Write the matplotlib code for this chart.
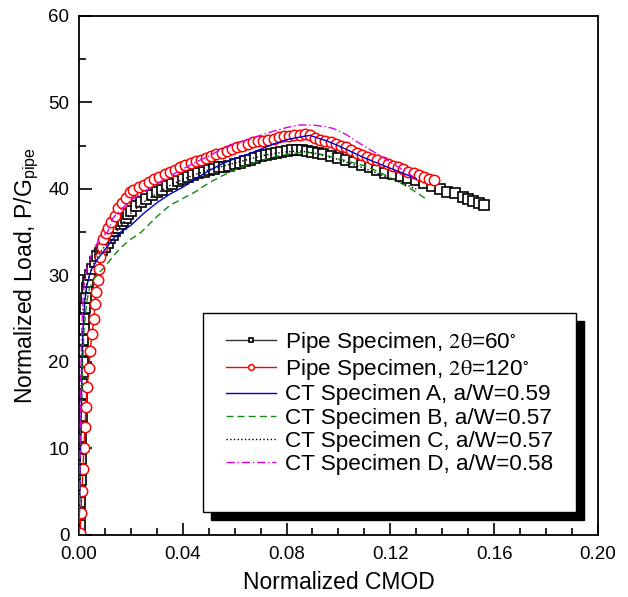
import numpy as np
import matplotlib.pyplot as plt
from matplotlib.patches import Rectangle
from matplotlib.ticker import MultipleLocator

plt.rcParams['font.family'] = ['Liberation Sans', 'DejaVu Sans']
plt.rcParams['mathtext.fontset'] = 'stix'

# Pipe specimen, 2theta = 60 deg (open squares)
pipe60_x = [0.0000, 0.0002, 0.0003, 0.0004, 0.0005, 0.0006, 0.0006, 0.0007, 0.0008, 0.0009,
            0.0010, 0.0010, 0.0011, 0.0012, 0.0013, 0.0014, 0.0015, 0.0016, 0.0017, 0.0019,
            0.0021, 0.0023, 0.0027, 0.0031, 0.0036, 0.0042, 0.0050, 0.0060, 0.0070, 0.0080,
            0.0090, 0.0100, 0.011, 0.012, 0.013, 0.014, 0.015, 0.016, 0.017, 0.018,
            0.019, 0.020, 0.022, 0.024, 0.026, 0.028, 0.030, 0.032, 0.034, 0.036,
            0.038, 0.040, 0.042, 0.044, 0.046, 0.048, 0.050, 0.052, 0.054, 0.056,
            0.058, 0.060, 0.062, 0.064, 0.066, 0.068, 0.070, 0.072, 0.074, 0.076,
            0.078, 0.080, 0.082, 0.084, 0.086, 0.088, 0.090, 0.092, 0.094, 0.097,
            0.100, 0.103, 0.106, 0.109, 0.112, 0.115, 0.118, 0.121, 0.124, 0.127,
            0.130, 0.133, 0.136, 0.139, 0.142, 0.145, 0.148, 0.150, 0.152, 0.154, 0.156]
pipe60_y = [0.0, 1.2, 2.5, 3.8, 5.0, 6.3, 7.5, 8.8, 10.0, 11.3,
            12.5, 13.8, 15.0, 16.3, 17.5, 18.8, 20.0, 21.3, 22.5, 23.8,
            25.0, 26.2, 27.4, 28.5, 29.3, 30.0, 30.8, 31.6, 32.2, 32.6,
            33.0, 33.3, 33.8, 34.3, 34.7, 35.1, 35.5, 35.9, 36.3, 36.7,
            37.1, 37.5, 38.0, 38.5, 38.9, 39.3, 39.6, 39.9, 40.3, 40.6,
            40.9, 41.2, 41.4, 41.6, 41.8, 42.0, 42.2, 42.3, 42.5, 42.6,
            42.7, 42.9, 43.0, 43.2, 43.4, 43.6, 43.8, 43.9, 44.1, 44.2,
            44.3, 44.4, 44.5, 44.5, 44.5, 44.4, 44.3, 44.2, 44.1, 43.8,
            43.6, 43.4, 43.1, 42.8, 42.5, 42.2, 41.9, 41.7, 41.5, 41.3,
            41.0, 40.7, 40.3, 40.0, 39.7, 39.5, 39.1, 38.8, 38.6, 38.4, 38.2]

# Pipe specimen, 2theta = 120 deg (open circles)
pipe120_x = [0.0004, 0.0008, 0.0011, 0.0015, 0.0019, 0.0023, 0.0027, 0.0031, 0.0039, 0.0042,
             0.0050, 0.0058, 0.0061, 0.0066, 0.0073, 0.0078, 0.0082, 0.0088, 0.0094, 0.0103,
             0.0112, 0.0125, 0.0139, 0.0152, 0.0165, 0.0180, 0.0197, 0.021, 0.023, 0.025,
             0.027, 0.029, 0.031, 0.033, 0.035, 0.037, 0.039, 0.041, 0.043, 0.045,
             0.047, 0.049, 0.051, 0.053, 0.055, 0.057, 0.059, 0.061, 0.063, 0.065,
             0.067, 0.069, 0.071, 0.073, 0.075, 0.077, 0.079, 0.081, 0.083, 0.085,
             0.087, 0.089, 0.091, 0.093, 0.095, 0.097, 0.099, 0.101, 0.103, 0.105,
             0.107, 0.109, 0.111, 0.113, 0.115, 0.117, 0.119, 0.121, 0.123, 0.125,
             0.127, 0.129, 0.131, 0.133, 0.135, 0.137]
pipe120_y = [0.2, 2.5, 5.1, 7.6, 10.1, 12.5, 14.8, 17.1, 19.3, 21.3,
             23.2, 25.0, 26.7, 28.1, 29.5, 30.8, 32.1, 33.3, 34.2, 34.9,
             35.5, 36.2, 36.9, 37.8, 38.4, 39.0, 39.6, 39.9, 40.2, 40.5,
             40.8, 41.1, 41.4, 41.7, 42.0, 42.2, 42.5, 42.8, 43.0, 43.2,
             43.4, 43.6, 43.8, 44.0, 44.2, 44.4, 44.6, 44.8, 45.0, 45.2,
             45.4, 45.5, 45.6, 45.7, 45.8, 46.0, 46.1, 46.1, 46.2, 46.2,
             46.3, 46.2, 45.9, 45.7, 45.5, 45.4, 45.2, 45.0, 44.8, 44.5,
             44.2, 43.9, 43.7, 43.5, 43.3, 43.1, 42.9, 42.7, 42.5, 42.3,
             42.0, 41.8, 41.6, 41.4, 41.2, 41.0]

# CT specimen A, a/W=0.59
ctA_x = [0.0, 0.0003, 0.0006, 0.0009, 0.0012, 0.0016, 0.0022, 0.003, 0.004, 0.005,
         0.007, 0.010, 0.013, 0.016, 0.020, 0.025, 0.030, 0.035, 0.040, 0.045,
         0.050, 0.055, 0.060, 0.065, 0.070, 0.075, 0.080, 0.085, 0.089, 0.092,
         0.096, 0.100, 0.105, 0.110, 0.115, 0.120, 0.125, 0.130]
ctA_y = [0.0, 5.0, 10.0, 15.0, 20.0, 24.0, 27.0, 28.8, 30.0, 30.8,
         31.8, 33.0, 34.2, 35.0, 35.8, 37.2, 38.4, 39.4, 40.2, 41.2,
         42.1, 42.9, 43.5, 44.0, 44.6, 45.2, 45.7, 46.0, 46.2, 45.9,
         45.5, 45.0, 44.3, 43.6, 43.0, 42.4, 41.8, 41.2]

# CT specimen B, a/W=0.57
ctB_x = [0.0, 0.0003, 0.0006, 0.001, 0.0014, 0.002, 0.003, 0.004, 0.006, 0.008,
         0.010, 0.012, 0.016, 0.020, 0.024, 0.030, 0.035, 0.040, 0.045, 0.050,
         0.055, 0.060, 0.065, 0.070, 0.075, 0.080, 0.085, 0.090, 0.095, 0.100,
         0.105, 0.111, 0.116, 0.120, 0.124, 0.128, 0.131, 0.134]
ctB_y = [0.0, 5.0, 10.0, 15.0, 20.0, 24.0, 27.0, 28.5, 29.7, 30.4,
         31.0, 31.8, 33.2, 34.2, 35.0, 36.8, 38.1, 38.9, 39.7, 40.7,
         41.5, 42.2, 42.8, 43.3, 43.7, 44.0, 44.2, 44.2, 43.9, 43.5,
         43.1, 42.6, 41.9, 41.3, 40.7, 40.0, 39.4, 38.8]

# CT specimen C, a/W=0.57
ctC_x = [0.0, 0.0003, 0.0006, 0.0009, 0.0012, 0.0016, 0.0022, 0.003, 0.005, 0.008,
         0.010, 0.015, 0.020, 0.025, 0.030, 0.035, 0.040, 0.045, 0.050, 0.055,
         0.060, 0.065, 0.070, 0.075, 0.080, 0.085, 0.090, 0.095, 0.100, 0.105,
         0.110, 0.115, 0.120, 0.125, 0.130]
ctC_y = [0.0, 5.0, 10.0, 15.0, 20.0, 24.0, 27.0, 29.0, 31.0, 32.6,
         33.4, 35.3, 37.2, 38.5, 39.5, 40.4, 41.1, 41.7, 42.2, 42.6,
         43.0, 43.4, 43.8, 44.1, 44.3, 44.4, 44.2, 43.8, 43.4, 42.9,
         42.4, 41.8, 41.2, 40.6, 40.0]

# CT specimen D, a/W=0.58
ctD_x = [0.0, 0.0002, 0.0004, 0.0006, 0.0008, 0.0011, 0.0015, 0.002, 0.003, 0.005,
         0.008, 0.011, 0.013, 0.016, 0.020, 0.025, 0.030, 0.035, 0.040, 0.045,
         0.050, 0.055, 0.060, 0.065, 0.070, 0.075, 0.080, 0.085, 0.090, 0.095,
         0.098, 0.103, 0.108, 0.113, 0.117, 0.121, 0.125, 0.129]
ctD_y = [0.0, 5.0, 10.0, 15.0, 20.0, 24.0, 27.0, 29.0, 30.8, 32.6,
         34.3, 35.0, 36.6, 37.6, 38.7, 39.6, 40.6, 41.5, 42.3, 43.1,
         43.8, 44.6, 45.2, 45.7, 46.2, 46.7, 47.1, 47.4, 47.4, 47.2,
         47.0, 46.3, 45.3, 44.4, 43.7, 42.9, 42.2, 41.4]

fig = plt.figure(figsize=(6.28, 5.97), dpi=100)
ax = fig.add_axes([0.1258, 0.1039, 0.8262, 0.8693])

ax.plot(ctA_x, ctA_y, '-', color='#0000cc', lw=1.0, label='CT Specimen A, a/W=0.59', zorder=3)
ax.plot(ctB_x, ctB_y, '--', color='#118811', lw=1.0, dashes=(5, 3), label='CT Specimen B, a/W=0.57', zorder=3)
ax.plot(ctC_x, ctC_y, ':', color='#000000', lw=1.0, label='CT Specimen C, a/W=0.57', zorder=3)
ax.plot(ctD_x, ctD_y, '-.', color='#dd00dd', lw=1.0, dashes=(6, 2, 1, 2), label='CT Specimen D, a/W=0.58', zorder=3)
ax.plot(pipe60_x, pipe60_y, '-', color='#333333', lw=1.0, marker='s', ms=6.5, mfc='white',
        mec='black', mew=1.2, label=r'Pipe Specimen, $\mathrm{2θ}$=60$^{\circ}$', zorder=2)
ax.plot(pipe120_x, pipe120_y, '-', color='red', lw=1.0, marker='o', ms=7.5, mfc='white',
        mec='red', mew=1.1, label=r'Pipe Specimen, $\mathrm{2θ}$=120$^{\circ}$', zorder=2.5)

ax.set_xlim(0, 0.20)
ax.set_ylim(0, 60)
ax.xaxis.set_major_locator(MultipleLocator(0.04))
ax.xaxis.set_minor_locator(MultipleLocator(0.01))
ax.yaxis.set_major_locator(MultipleLocator(10))
ax.yaxis.set_minor_locator(MultipleLocator(5))
ax.xaxis.set_major_formatter(plt.FuncFormatter(lambda v, p: f'{v:.2f}'))
ax.tick_params(which='both', direction='in', labelsize=13.5, top=False, right=False, width=1.2)
ax.tick_params(which='major', length=9)
ax.tick_params(which='minor', length=5)
ax.tick_params(axis='x', which='major', pad=8)
ax.tick_params(axis='y', which='major', pad=7)
for s in ax.spines.values():
    s.set_linewidth(1.3)

ax.set_xlabel('Normalized CMOD', fontsize=16.5, labelpad=6)
ax.set_ylabel(r'Normalized Load, P/G$_\mathregular{pipe}$', fontsize=16.5, labelpad=6)

# legend frame with a solid black drop shadow
box = (0.239, 0.044, 0.719, 0.384)
sh = 8 / 519
ax.add_patch(Rectangle((box[0] + sh, box[1] - sh), box[2], box[3], transform=ax.transAxes,
                       facecolor='black', edgecolor='black', zorder=5, clip_on=False))
ax.add_patch(Rectangle(box[:2], box[2], box[3], transform=ax.transAxes,
                       facecolor='white', edgecolor='black', lw=1.0, zorder=5.1, clip_on=False))

handles, labels = ax.get_legend_handles_labels()
order = [4, 5, 0, 1, 2, 3]
leg = ax.legend([handles[i] for i in order], [labels[i] for i in order],
                loc='upper left', bbox_to_anchor=(0.283, 0.395), fontsize=16.2,
                frameon=False, markerscale=0.55, handlelength=2.25, handletextpad=0.4,
                labelspacing=0.1, borderpad=0, borderaxespad=0)
leg.set_zorder(6)

fig.savefig('out.png', dpi=100)
